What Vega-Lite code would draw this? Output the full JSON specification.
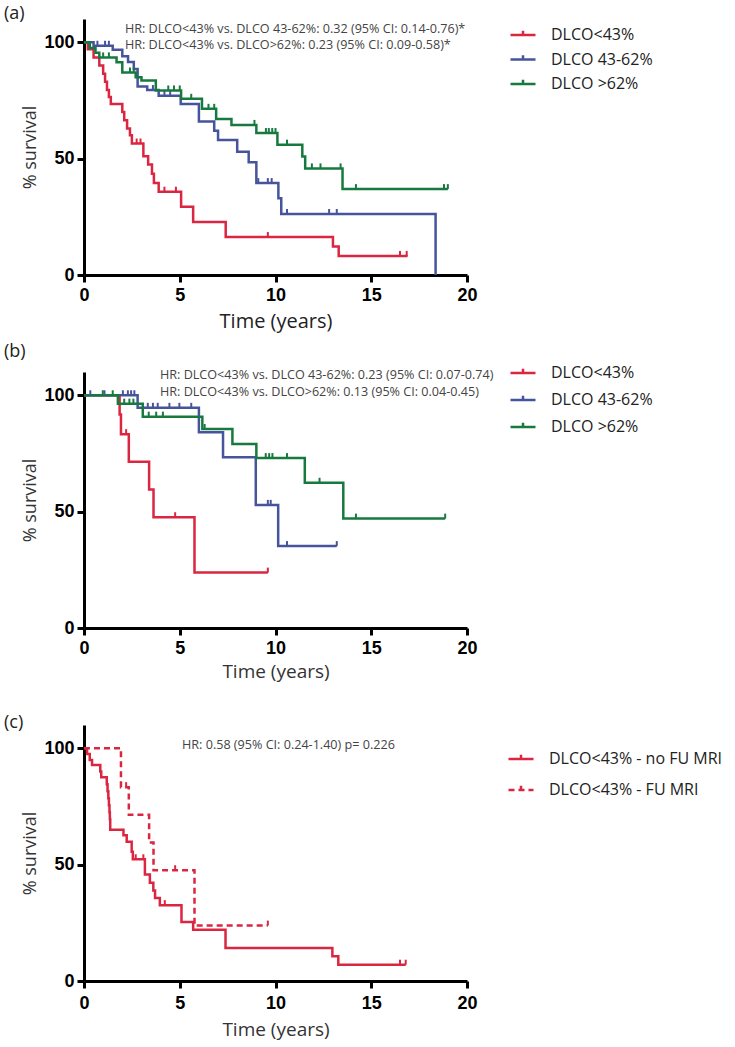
{
  "$schema": "https://vega.github.io/schema/vega-lite/v6.json",
  "background": "white",
  "padding": {"left": 3, "top": 5, "right": 0, "bottom": 4},
  "bounds": "flush",
  "spacing": 97,
  "config": {
    "view": {"stroke": null},
    "axis": {
      "grid": false,
      "labelFlush": false,
      "domainColor": "black",
      "domainWidth": 3,
      "tickColor": "black",
      "tickWidth": 3,
      "tickSize": 7,
      "labelFont": "Liberation Sans",
      "labelFontWeight": "bold",
      "labelFontSize": 18,
      "labelColor": "black",
      "titleFont": "Open Sans",
      "titleFontWeight": "normal",
      "titleColor": "#333333"
    },
    "title": {"font": "Open Sans", "fontWeight": "normal", "fontSize": 18, "color": "#222222", "anchor": "start", "frame": "bounds"},
    "legend": {
      "title": null,
      "orient": "none",
      "symbolType": "M-1,0H1M0,0V-0.35",
      "symbolSize": 625,
      "symbolStrokeWidth": 2.5,
      "symbolOpacity": 1,
      "labelFont": "Open Sans",
      "labelFontSize": 16,
      "labelColor": "#222222",
      "labelOffset": 14,
      "labelLimit": 300
    }
  },
  "datasets": {
    "a_curve": [
      {"group": "DLCO<43%", "t": 0, "s": 100},
      {"group": "DLCO<43%", "t": 0.2, "s": 97},
      {"group": "DLCO<43%", "t": 0.5, "s": 93.5},
      {"group": "DLCO<43%", "t": 0.8, "s": 90},
      {"group": "DLCO<43%", "t": 1.0, "s": 86.5},
      {"group": "DLCO<43%", "t": 1.1, "s": 83},
      {"group": "DLCO<43%", "t": 1.2, "s": 79.5},
      {"group": "DLCO<43%", "t": 1.3, "s": 76.5},
      {"group": "DLCO<43%", "t": 1.4, "s": 73.5},
      {"group": "DLCO<43%", "t": 2.0, "s": 70},
      {"group": "DLCO<43%", "t": 2.1, "s": 66.5},
      {"group": "DLCO<43%", "t": 2.25, "s": 63},
      {"group": "DLCO<43%", "t": 2.4, "s": 60},
      {"group": "DLCO<43%", "t": 2.5, "s": 56.5},
      {"group": "DLCO<43%", "t": 3.1, "s": 51},
      {"group": "DLCO<43%", "t": 3.35, "s": 47.5},
      {"group": "DLCO<43%", "t": 3.55, "s": 43.5},
      {"group": "DLCO<43%", "t": 3.65, "s": 39.5},
      {"group": "DLCO<43%", "t": 3.9, "s": 35.8},
      {"group": "DLCO<43%", "t": 5.07, "s": 29.3},
      {"group": "DLCO<43%", "t": 5.7, "s": 22.8},
      {"group": "DLCO<43%", "t": 7.4, "s": 16.3},
      {"group": "DLCO<43%", "t": 13.0, "s": 12.2},
      {"group": "DLCO<43%", "t": 13.3, "s": 8.2},
      {"group": "DLCO<43%", "t": 16.9, "s": 8.2},
      {"group": "DLCO 43-62%", "t": 0, "s": 100},
      {"group": "DLCO 43-62%", "t": 0.5, "s": 98.5},
      {"group": "DLCO 43-62%", "t": 1.5, "s": 96.8},
      {"group": "DLCO 43-62%", "t": 2.0, "s": 94},
      {"group": "DLCO 43-62%", "t": 2.3, "s": 91.5},
      {"group": "DLCO 43-62%", "t": 2.6, "s": 88.5},
      {"group": "DLCO 43-62%", "t": 2.8, "s": 81},
      {"group": "DLCO 43-62%", "t": 3.3, "s": 79.5},
      {"group": "DLCO 43-62%", "t": 3.9, "s": 77},
      {"group": "DLCO 43-62%", "t": 5.05, "s": 73.5},
      {"group": "DLCO 43-62%", "t": 6.0, "s": 66},
      {"group": "DLCO 43-62%", "t": 6.8, "s": 62},
      {"group": "DLCO 43-62%", "t": 7.0, "s": 58},
      {"group": "DLCO 43-62%", "t": 8.0, "s": 53},
      {"group": "DLCO 43-62%", "t": 8.6, "s": 48.5},
      {"group": "DLCO 43-62%", "t": 9.0, "s": 39.5},
      {"group": "DLCO 43-62%", "t": 10.15, "s": 33},
      {"group": "DLCO 43-62%", "t": 10.3, "s": 26.2},
      {"group": "DLCO 43-62%", "t": 18.36, "s": 0},
      {"group": "DLCO >62%", "t": 0, "s": 100},
      {"group": "DLCO >62%", "t": 0.3, "s": 97.5},
      {"group": "DLCO >62%", "t": 0.6, "s": 95.5},
      {"group": "DLCO >62%", "t": 0.8, "s": 93.5},
      {"group": "DLCO >62%", "t": 1.7, "s": 91.4},
      {"group": "DLCO >62%", "t": 2.0, "s": 87},
      {"group": "DLCO >62%", "t": 2.7, "s": 85},
      {"group": "DLCO >62%", "t": 3.0, "s": 83.6},
      {"group": "DLCO >62%", "t": 3.75, "s": 79.3},
      {"group": "DLCO >62%", "t": 5.07, "s": 75.7},
      {"group": "DLCO >62%", "t": 6.16, "s": 71.4},
      {"group": "DLCO >62%", "t": 6.9, "s": 67},
      {"group": "DLCO >62%", "t": 7.7, "s": 64.5},
      {"group": "DLCO >62%", "t": 9.0, "s": 61},
      {"group": "DLCO >62%", "t": 10.1, "s": 56},
      {"group": "DLCO >62%", "t": 11.4, "s": 50.9},
      {"group": "DLCO >62%", "t": 11.55, "s": 45.8},
      {"group": "DLCO >62%", "t": 13.5, "s": 36.9},
      {"group": "DLCO >62%", "t": 19.0, "s": 36.9}
    ],
    "a_cens": [
      {"group": "DLCO<43%", "t": 2.75, "s": 56.5},
      {"group": "DLCO<43%", "t": 2.95, "s": 56.5},
      {"group": "DLCO<43%", "t": 4.2, "s": 35.8},
      {"group": "DLCO<43%", "t": 4.8, "s": 35.8},
      {"group": "DLCO<43%", "t": 9.6, "s": 16.3},
      {"group": "DLCO<43%", "t": 16.5, "s": 8.2},
      {"group": "DLCO<43%", "t": 16.85, "s": 8.2},
      {"group": "DLCO 43-62%", "t": 0.7, "s": 98.5},
      {"group": "DLCO 43-62%", "t": 1.1, "s": 98.5},
      {"group": "DLCO 43-62%", "t": 1.3, "s": 98.5},
      {"group": "DLCO 43-62%", "t": 3.6, "s": 79.5},
      {"group": "DLCO 43-62%", "t": 4.2, "s": 77},
      {"group": "DLCO 43-62%", "t": 4.5, "s": 77},
      {"group": "DLCO 43-62%", "t": 9.1, "s": 39.5},
      {"group": "DLCO 43-62%", "t": 9.6, "s": 39.5},
      {"group": "DLCO 43-62%", "t": 9.8, "s": 39.5},
      {"group": "DLCO 43-62%", "t": 10.6, "s": 26.2},
      {"group": "DLCO 43-62%", "t": 12.8, "s": 26.2},
      {"group": "DLCO 43-62%", "t": 13.2, "s": 26.2},
      {"group": "DLCO >62%", "t": 1.0, "s": 93.5},
      {"group": "DLCO >62%", "t": 1.3, "s": 93.5},
      {"group": "DLCO >62%", "t": 2.4, "s": 87},
      {"group": "DLCO >62%", "t": 2.6, "s": 87},
      {"group": "DLCO >62%", "t": 4.4, "s": 79.3},
      {"group": "DLCO >62%", "t": 4.7, "s": 79.3},
      {"group": "DLCO >62%", "t": 5.0, "s": 79.3},
      {"group": "DLCO >62%", "t": 5.6, "s": 75.7},
      {"group": "DLCO >62%", "t": 6.5, "s": 71.4},
      {"group": "DLCO >62%", "t": 6.8, "s": 71.4},
      {"group": "DLCO >62%", "t": 8.9, "s": 64.5},
      {"group": "DLCO >62%", "t": 9.5, "s": 61},
      {"group": "DLCO >62%", "t": 9.65, "s": 61},
      {"group": "DLCO >62%", "t": 9.83, "s": 61},
      {"group": "DLCO >62%", "t": 10.0, "s": 61},
      {"group": "DLCO >62%", "t": 10.6, "s": 56},
      {"group": "DLCO >62%", "t": 11.9, "s": 45.8},
      {"group": "DLCO >62%", "t": 12.35, "s": 45.8},
      {"group": "DLCO >62%", "t": 13.4, "s": 45.8},
      {"group": "DLCO >62%", "t": 14.2, "s": 36.9},
      {"group": "DLCO >62%", "t": 18.8, "s": 36.9},
      {"group": "DLCO >62%", "t": 19.0, "s": 36.9}
    ],
    "b_curve": [
      {"group": "DLCO<43%", "t": 0, "s": 100},
      {"group": "DLCO<43%", "t": 1.86, "s": 91.7},
      {"group": "DLCO<43%", "t": 1.93, "s": 83.3},
      {"group": "DLCO<43%", "t": 2.34, "s": 71.4},
      {"group": "DLCO<43%", "t": 3.4, "s": 59.5},
      {"group": "DLCO<43%", "t": 3.63, "s": 47.6},
      {"group": "DLCO<43%", "t": 5.77, "s": 23.8},
      {"group": "DLCO<43%", "t": 9.6, "s": 23.8},
      {"group": "DLCO 43-62%", "t": 0, "s": 100},
      {"group": "DLCO 43-62%", "t": 2.8, "s": 94.6},
      {"group": "DLCO 43-62%", "t": 6.0, "s": 84.1},
      {"group": "DLCO 43-62%", "t": 7.26, "s": 73.4},
      {"group": "DLCO 43-62%", "t": 8.97, "s": 52.9},
      {"group": "DLCO 43-62%", "t": 10.14, "s": 35.2},
      {"group": "DLCO 43-62%", "t": 13.2, "s": 35.2},
      {"group": "DLCO >62%", "t": 0, "s": 100},
      {"group": "DLCO >62%", "t": 1.77, "s": 96.4},
      {"group": "DLCO >62%", "t": 3.07, "s": 90.8},
      {"group": "DLCO >62%", "t": 6.18, "s": 85.5},
      {"group": "DLCO >62%", "t": 7.75, "s": 79.1},
      {"group": "DLCO >62%", "t": 9.0, "s": 73},
      {"group": "DLCO >62%", "t": 11.53, "s": 62.4},
      {"group": "DLCO >62%", "t": 13.54, "s": 47},
      {"group": "DLCO >62%", "t": 18.86, "s": 47}
    ],
    "b_cens": [
      {"group": "DLCO<43%", "t": 2.2, "s": 83.3},
      {"group": "DLCO<43%", "t": 4.76, "s": 47.6},
      {"group": "DLCO<43%", "t": 9.6, "s": 23.8},
      {"group": "DLCO 43-62%", "t": 0.33, "s": 100},
      {"group": "DLCO 43-62%", "t": 1.07, "s": 100},
      {"group": "DLCO 43-62%", "t": 2.03, "s": 100},
      {"group": "DLCO 43-62%", "t": 2.29, "s": 100},
      {"group": "DLCO 43-62%", "t": 2.46, "s": 100},
      {"group": "DLCO 43-62%", "t": 2.63, "s": 100},
      {"group": "DLCO 43-62%", "t": 3.33, "s": 94.6},
      {"group": "DLCO 43-62%", "t": 3.6, "s": 94.6},
      {"group": "DLCO 43-62%", "t": 3.85, "s": 94.6},
      {"group": "DLCO 43-62%", "t": 4.46, "s": 94.6},
      {"group": "DLCO 43-62%", "t": 4.98, "s": 94.6},
      {"group": "DLCO 43-62%", "t": 5.6, "s": 94.6},
      {"group": "DLCO 43-62%", "t": 9.6, "s": 52.9},
      {"group": "DLCO 43-62%", "t": 9.75, "s": 52.9},
      {"group": "DLCO 43-62%", "t": 10.6, "s": 35.2},
      {"group": "DLCO 43-62%", "t": 13.2, "s": 35.2},
      {"group": "DLCO >62%", "t": 0.98, "s": 100},
      {"group": "DLCO >62%", "t": 1.5, "s": 100},
      {"group": "DLCO >62%", "t": 2.1, "s": 96.4},
      {"group": "DLCO >62%", "t": 2.37, "s": 96.4},
      {"group": "DLCO >62%", "t": 2.58, "s": 96.4},
      {"group": "DLCO >62%", "t": 3.38, "s": 90.8},
      {"group": "DLCO >62%", "t": 3.77, "s": 90.8},
      {"group": "DLCO >62%", "t": 4.12, "s": 90.8},
      {"group": "DLCO >62%", "t": 6.3, "s": 85.5},
      {"group": "DLCO >62%", "t": 9.49, "s": 73},
      {"group": "DLCO >62%", "t": 9.67, "s": 73},
      {"group": "DLCO >62%", "t": 9.84, "s": 73},
      {"group": "DLCO >62%", "t": 10.6, "s": 73},
      {"group": "DLCO >62%", "t": 12.3, "s": 62.4},
      {"group": "DLCO >62%", "t": 14.2, "s": 47},
      {"group": "DLCO >62%", "t": 18.86, "s": 47}
    ],
    "c_curve": [
      {"group": "DLCO<43% - no FU MRI", "t": 0, "s": 100},
      {"group": "DLCO<43% - no FU MRI", "t": 0.16, "s": 97.5},
      {"group": "DLCO<43% - no FU MRI", "t": 0.3, "s": 95},
      {"group": "DLCO<43% - no FU MRI", "t": 0.42, "s": 92.8},
      {"group": "DLCO<43% - no FU MRI", "t": 0.85, "s": 90},
      {"group": "DLCO<43% - no FU MRI", "t": 0.9, "s": 87.5},
      {"group": "DLCO<43% - no FU MRI", "t": 1.19, "s": 84.5},
      {"group": "DLCO<43% - no FU MRI", "t": 1.23, "s": 81.5},
      {"group": "DLCO<43% - no FU MRI", "t": 1.27, "s": 78.5},
      {"group": "DLCO<43% - no FU MRI", "t": 1.3, "s": 75.5},
      {"group": "DLCO<43% - no FU MRI", "t": 1.33, "s": 72.5},
      {"group": "DLCO<43% - no FU MRI", "t": 1.35, "s": 69.5},
      {"group": "DLCO<43% - no FU MRI", "t": 1.37, "s": 65},
      {"group": "DLCO<43% - no FU MRI", "t": 2.06, "s": 62.6},
      {"group": "DLCO<43% - no FU MRI", "t": 2.23, "s": 59.8},
      {"group": "DLCO<43% - no FU MRI", "t": 2.49, "s": 55.5},
      {"group": "DLCO<43% - no FU MRI", "t": 2.55, "s": 52.3},
      {"group": "DLCO<43% - no FU MRI", "t": 3.18, "s": 45.8},
      {"group": "DLCO<43% - no FU MRI", "t": 3.44, "s": 42.2},
      {"group": "DLCO<43% - no FU MRI", "t": 3.62, "s": 38.9},
      {"group": "DLCO<43% - no FU MRI", "t": 3.71, "s": 35.7},
      {"group": "DLCO<43% - no FU MRI", "t": 3.96, "s": 32.6},
      {"group": "DLCO<43% - no FU MRI", "t": 5.09, "s": 25.4},
      {"group": "DLCO<43% - no FU MRI", "t": 5.7, "s": 22},
      {"group": "DLCO<43% - no FU MRI", "t": 7.39, "s": 14.2},
      {"group": "DLCO<43% - no FU MRI", "t": 12.97, "s": 10.6},
      {"group": "DLCO<43% - no FU MRI", "t": 13.28, "s": 7},
      {"group": "DLCO<43% - no FU MRI", "t": 16.8, "s": 7},
      {"group": "DLCO<43% - FU MRI", "t": 0, "s": 100},
      {"group": "DLCO<43% - FU MRI", "t": 1.93, "s": 83.3},
      {"group": "DLCO<43% - FU MRI", "t": 2.34, "s": 71.4},
      {"group": "DLCO<43% - FU MRI", "t": 3.4, "s": 59.5},
      {"group": "DLCO<43% - FU MRI", "t": 3.63, "s": 47.6},
      {"group": "DLCO<43% - FU MRI", "t": 5.77, "s": 23.8},
      {"group": "DLCO<43% - FU MRI", "t": 9.6, "s": 23.8}
    ],
    "c_cens": [
      {"group": "DLCO<43% - no FU MRI", "t": 2.7, "s": 52.3},
      {"group": "DLCO<43% - no FU MRI", "t": 3.1, "s": 52.3},
      {"group": "DLCO<43% - no FU MRI", "t": 4.22, "s": 32.6},
      {"group": "DLCO<43% - no FU MRI", "t": 16.5, "s": 7},
      {"group": "DLCO<43% - no FU MRI", "t": 16.8, "s": 7},
      {"group": "DLCO<43% - FU MRI", "t": 2.2, "s": 83.3},
      {"group": "DLCO<43% - FU MRI", "t": 4.76, "s": 47.6},
      {"group": "DLCO<43% - FU MRI", "t": 9.6, "s": 23.8}
    ]
  },
  "resolve": {"scale": {"color": "independent", "strokeDash": "independent"}, "legend": {"color": "independent", "strokeDash": "independent"}},
  "vconcat": [
    {
      "width": 383,
      "height": 256,
      "title": {"text": "(a)", "dx": -18, "offset": -4},
      "layer": [
        {
          "data": {"name": "a_curve"},
          "mark": {"type": "line", "interpolate": "step-after", "strokeWidth": 2.5},
          "encoding": {
            "x": {"field": "t", "type": "quantitative", "scale": {"domain": [0, 20], "nice": false}, "axis": {"values": [0, 5, 10, 15, 20], "title": "Time (years)", "titleFontSize": 20, "titleColor": "#222222", "labelPadding": 4, "titlePadding": 7}},
            "y": {"field": "s", "type": "quantitative", "scale": {"domain": [0, 110], "nice": false}, "axis": {"values": [0, 50, 100], "title": "% survival", "titleFontSize": 18, "labelPadding": 3, "titlePadding": 4}},
            "color": {"field": "group", "type": "nominal", "scale": {"domain": ["DLCO<43%", "DLCO 43-62%", "DLCO >62%"], "range": ["#DA2640", "#46559B", "#167A3F"]}, "legend": {"legendX": 425, "legendY": 2, "rowPadding": 2.5}}
          }
        },
        {
          "data": {"name": "a_cens"},
          "mark": {"type": "point", "shape": "M0,0V-1", "size": 100, "filled": false, "strokeWidth": 2, "opacity": 1},
          "encoding": {
            "x": {"field": "t", "type": "quantitative"},
            "y": {"field": "s", "type": "quantitative"},
            "color": {"field": "group", "type": "nominal"}
          }
        },
        {
          "data": {"values": [{}]},
          "mark": {"type": "text", "align": "left", "baseline": "top", "font": "Open Sans", "fontSize": 12.6, "lineHeight": 16, "color": "#444444", "text": ["HR: DLCO<43% vs. DLCO 43-62%: 0.32 (95% CI: 0.14-0.76)*", "HR: DLCO<43% vs. DLCO>62%: 0.23 (95% CI: 0.09-0.58)*"]},
          "encoding": {"x": {"datum": 2.14}, "y": {"datum": 108.2}}
        }
      ]
    },
    {
      "width": 383,
      "height": 256,
      "title": {"text": "(b)", "dx": -18, "offset": -2},
      "layer": [
        {
          "data": {"name": "b_curve"},
          "mark": {"type": "line", "interpolate": "step-after", "strokeWidth": 2.5},
          "encoding": {
            "x": {"field": "t", "type": "quantitative", "scale": {"domain": [0, 20], "nice": false}, "axis": {"values": [0, 5, 10, 15, 20], "title": "Time (years)", "titleFontSize": 19, "titleColor": "#333333", "labelPadding": 4, "titlePadding": 5}},
            "y": {"field": "s", "type": "quantitative", "scale": {"domain": [0, 110], "nice": false}, "axis": {"values": [0, 50, 100], "title": "% survival", "titleFontSize": 18, "labelPadding": 3, "titlePadding": 4}},
            "color": {"field": "group", "type": "nominal", "scale": {"domain": ["DLCO<43%", "DLCO 43-62%", "DLCO >62%"], "range": ["#DA2640", "#46559B", "#167A3F"]}, "legend": {"legendX": 425, "legendY": -13, "rowPadding": 5}}
          }
        },
        {
          "data": {"name": "b_cens"},
          "mark": {"type": "point", "shape": "M0,0V-1", "size": 100, "filled": false, "strokeWidth": 2, "opacity": 1},
          "encoding": {
            "x": {"field": "t", "type": "quantitative"},
            "y": {"field": "s", "type": "quantitative"},
            "color": {"field": "group", "type": "nominal"}
          }
        },
        {
          "data": {"values": [{}]},
          "mark": {"type": "text", "align": "left", "baseline": "top", "font": "Open Sans", "fontSize": 12.6, "lineHeight": 17.5, "color": "#444444", "text": ["HR: DLCO<43% vs. DLCO 43-62%: 0.23 (95% CI: 0.07-0.74)", "HR: DLCO<43% vs. DLCO>62%: 0.13 (95% CI: 0.04-0.45)"]},
          "encoding": {"x": {"datum": 3.97}, "y": {"datum": 111.3}}
        }
      ]
    },
    {
      "width": 383,
      "height": 256,
      "title": {"text": "(c)", "dx": -18, "offset": -7},
      "layer": [
        {
          "data": {"name": "c_curve"},
          "mark": {"type": "line", "interpolate": "step-after", "strokeWidth": 2.5, "color": "#DA2640"},
          "encoding": {
            "x": {"field": "t", "type": "quantitative", "scale": {"domain": [0, 20], "nice": false}, "axis": {"values": [0, 5, 10, 15, 20], "title": "Time (years)", "titleFontSize": 19, "titleColor": "#333333", "labelPadding": 6, "titlePadding": 8}},
            "y": {"field": "s", "type": "quantitative", "scale": {"domain": [0, 110], "nice": false}, "axis": {"values": [0, 50, 100], "title": "% survival", "titleFontSize": 18, "labelPadding": 3, "titlePadding": 4}},
            "strokeDash": {"field": "group", "type": "nominal", "scale": {"domain": ["DLCO<43% - no FU MRI", "DLCO<43% - FU MRI"], "range": [[1, 0], [6, 4]]}, "legend": {"legendX": 423, "legendY": 20, "rowPadding": 9, "symbolStrokeColor": "#DA2640"}}
          }
        },
        {
          "data": {"name": "c_cens"},
          "mark": {"type": "point", "shape": "M0,0V-1", "size": 100, "filled": false, "strokeWidth": 2, "opacity": 1, "color": "#DA2640"},
          "encoding": {
            "x": {"field": "t", "type": "quantitative"},
            "y": {"field": "s", "type": "quantitative"}
          }
        },
        {
          "data": {"values": [{}]},
          "mark": {"type": "text", "align": "left", "baseline": "top", "font": "Open Sans", "fontSize": 12.6, "color": "#444444", "text": "HR: 0.58 (95% CI: 0.24-1.40) p= 0.226"},
          "encoding": {"x": {"datum": 5.12}, "y": {"datum": 103.8}}
        }
      ]
    }
  ]
}
